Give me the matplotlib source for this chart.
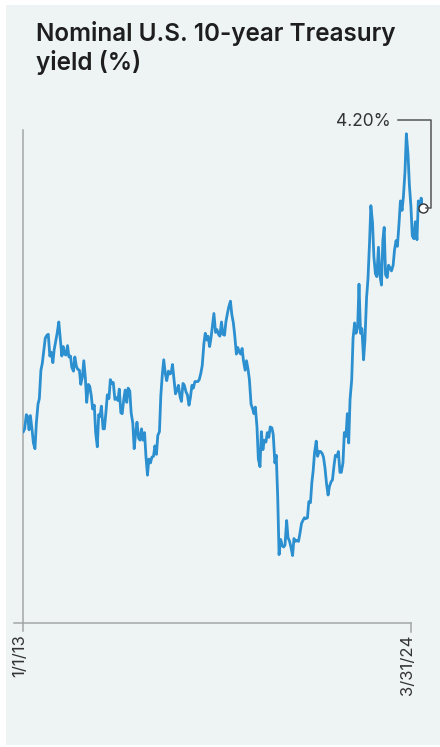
import matplotlib
matplotlib.use("Agg")
import matplotlib.pyplot as plt
import matplotlib.dates as mdates
from matplotlib.lines import Line2D
from matplotlib.patches import Rectangle
import pandas as pd

y2013 = [1.84, 1.87, 2.02, 2.00, 1.86, 2.01, 1.86, 1.72, 1.66, 1.93, 2.13, 2.19,
         2.49, 2.56, 2.71, 2.83, 2.86, 2.87, 2.64, 2.68, 2.57, 2.71, 2.80, 2.88]
y2014 = [3.00, 2.84, 2.64, 2.74, 2.66, 2.65, 2.75, 2.63, 2.64, 2.52, 2.48, 2.63,
         2.53, 2.50, 2.49, 2.34, 2.42, 2.59, 2.41, 2.15, 2.34, 2.32, 2.22, 2.08]
y2015 = [2.12, 1.83, 1.68, 2.02, 2.00, 2.11, 1.87, 1.87, 2.05, 2.23, 2.19, 2.39,
         2.35, 2.36, 2.18, 2.20, 2.17, 2.29, 2.04, 2.03, 2.19, 2.28, 2.15, 2.30]
y2016 = [2.27, 2.04, 1.93, 1.66, 1.82, 1.94, 1.77, 1.75, 1.87, 1.75, 1.83, 1.58,
         1.38, 1.55, 1.51, 1.57, 1.58, 1.69, 1.60, 1.80, 1.84, 2.22, 2.45, 2.60]
y2017 = [2.45, 2.38, 2.48, 2.45, 2.46, 2.55, 2.38, 2.24, 2.28, 2.33, 2.21, 2.16,
         2.35, 2.33, 2.26, 2.23, 2.12, 2.20, 2.33, 2.30, 2.37, 2.37, 2.37, 2.39]
y2018 = [2.46, 2.54, 2.77, 2.88, 2.81, 2.85, 2.74, 2.83, 2.97, 3.09, 2.89, 2.92,
         2.87, 2.85, 3.00, 2.87, 2.86, 3.00, 3.09, 3.16, 3.22, 3.08, 2.99, 2.86]
y2019 = [2.66, 2.73, 2.68, 2.66, 2.72, 2.59, 2.49, 2.59, 2.50, 2.39, 2.13, 2.09,
         2.03, 2.10, 1.89, 1.55, 1.47, 1.84, 1.65, 1.75, 1.73, 1.83, 1.78, 1.89]
y2020 = [1.88, 1.81, 1.51, 1.59, 1.15, 0.54, 0.70, 0.64, 0.62, 0.64, 0.90, 0.72,
         0.68, 0.62, 0.53, 0.71, 0.68, 0.69, 0.68, 0.76, 0.87, 0.90, 0.93, 0.92]
y2021 = [0.93, 1.10, 1.09, 1.30, 1.43, 1.62, 1.74, 1.58, 1.63, 1.63, 1.61, 1.57,
         1.45, 1.30, 1.17, 1.26, 1.31, 1.33, 1.48, 1.59, 1.58, 1.63, 1.41, 1.41]
y2022 = [1.51, 1.83, 1.79, 2.03, 1.72, 2.18, 2.39, 2.83, 2.99, 2.88, 2.94, 3.40,
         2.88, 2.93, 2.60, 2.81, 3.26, 3.45, 3.83, 4.23, 4.05, 3.69, 3.51, 3.48]
y2023 = [3.79, 3.50, 3.39, 3.86, 4.00, 3.50, 3.47, 3.60, 3.57, 3.54, 3.60, 3.76,
         3.86, 3.80, 4.05, 4.28, 4.18, 4.33, 4.59, 4.99, 4.77, 4.45, 4.22, 3.91]
y2024 = [3.88, 4.06, 3.87, 4.28, 4.18, 4.31, 4.20]

yields = y2013 + y2014 + y2015 + y2016 + y2017 + y2018 + y2019 + y2020 + y2021 + y2022 + y2023 + y2024
dates = list(pd.date_range("2013-01-01", "2024-03-15", freq="SMS")) + [pd.Timestamp("2024-03-31")]

title = "Nominal U.S. 10-year Treasury\nyield (%)"
tick_labels = ["1/1/13", "3/31/24"]
end_label = "4.20%"

W, H = 440, 747
fig = plt.figure(figsize=(W / 100, H / 100), dpi=100)
fig.patch.set_facecolor("white")
fig.add_artist(Rectangle((6 / W, 2 / H), (W - 6) / W, (H - 7) / H, transform=fig.transFigure,
                         facecolor="#eef4f4", edgecolor="none", zorder=0))

# axes box in pixels: x 23..423, y 130..623 (from top)
ax = fig.add_axes([23.3 / W, (H - 622.7) / H, 399.4 / W, 492.7 / H])
ax.set_facecolor("none")
ax.plot(dates, yields, color="#2b8fd0", lw=2.0, solid_joinstyle="round", zorder=3)
ax.set_xlim(dates[0], dates[-1])
ax.set_ylim(-0.18, 5.03)
for s in ax.spines.values():
    s.set_visible(False)
ax.set_xticks([])
ax.set_yticks([])

grey = "#a3a7a8"
# axis lines + ticks (axes fraction coords)
ax.add_line(Line2D([-0.0235, 0.970], [0, 0], transform=ax.transAxes, color=grey, lw=1.1, clip_on=False))
ax.add_line(Line2D([0, 0], [0, 1], transform=ax.transAxes, color=grey, lw=1.1, clip_on=False))
ax.add_line(Line2D([0, 0], [0, -0.016], transform=ax.transAxes, color=grey, lw=1.1, clip_on=False))
ax.add_line(Line2D([0.970, 0.970], [0, -0.018], transform=ax.transAxes, color=grey, lw=1.1, clip_on=False))

ax.text(-0.009, -0.024, tick_labels[0], transform=ax.transAxes, rotation=90, ha="center", va="top",
        fontsize=12, color="#333333", family="Inter")
ax.text(0.962, -0.024, tick_labels[1], transform=ax.transAxes, rotation=90, ha="center", va="top",
        fontsize=12, color="#333333", family="Inter")

# end point marker and bracket label
ax.plot([dates[-1]], [yields[-1]], marker="o", ms=6.5, mfc="white", mec="#333333", mew=1.0,
        zorder=5, clip_on=False)
fig.canvas.draw()
xe, ye = ax.transData.transform((mdates.date2num(dates[-1]), yields[-1]))
top = H - 120
fig.add_artist(Line2D([xe + 3.5, xe + 8, xe + 8, xe - 25], [ye, ye, top, top], transform=None,
                      color="#555555", lw=1.1))
fig.text((xe - 32) / W, (top - 2) / H, end_label, ha="right", va="center", fontsize=12.5,
         color="#333333", family="Inter")

fig.text(36 / W, (H - 21) / H, title, ha="left", va="top", fontsize=17.5, color="#1e1e1e",
         family="Inter", weight="semibold", linespacing=1.2)

fig.savefig("out.png", dpi=100, facecolor=fig.get_facecolor())
